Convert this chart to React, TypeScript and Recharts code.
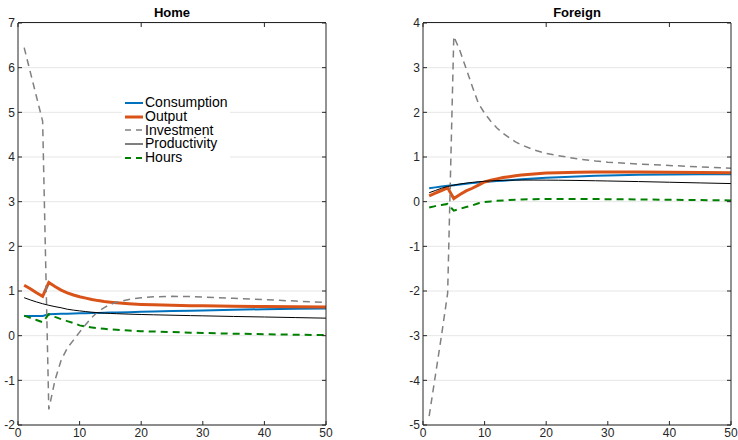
import { LineChart, Line, XAxis, YAxis, CartesianGrid } from 'recharts';

// periods after the shock
const periods = [1, 2, 3, 4, 5, 6, 7, 8, 9, 10, 11, 12, 13, 14, 15, 16, 18, 20, 22, 25, 28, 30, 35, 40, 45, 50];

const homeConsumption = [0.44, 0.44, 0.44, 0.44, 0.48, 0.485, 0.49, 0.493, 0.496, 0.5, 0.503, 0.506, 0.51, 0.513, 0.516, 0.52, 0.527, 0.534, 0.54, 0.55, 0.56, 0.566, 0.58, 0.592, 0.6, 0.608];
const homeOutput = [1.13, 1.05, 0.96, 0.88, 1.19, 1.1, 1.02, 0.96, 0.91, 0.87, 0.84, 0.81, 0.785, 0.765, 0.75, 0.735, 0.715, 0.7, 0.69, 0.68, 0.672, 0.668, 0.66, 0.653, 0.647, 0.64];
const homeInvestment = [6.45, 5.9, 5.35, 4.8, -1.65, -1.0, -0.55, -0.28, -0.1, 0.08, 0.25, 0.41, 0.54, 0.63, 0.7, 0.75, 0.81, 0.85, 0.87, 0.88, 0.875, 0.865, 0.835, 0.805, 0.775, 0.745];
const homeProductivity = [0.85, 0.8, 0.755, 0.715, 0.68, 0.65, 0.625, 0.592, 0.572, 0.555, 0.539, 0.525, 0.515, 0.505, 0.498, 0.492, 0.482, 0.474, 0.467, 0.458, 0.449, 0.444, 0.43, 0.418, 0.405, 0.392];
const homeHours = [0.45, 0.4, 0.35, 0.3, 0.48, 0.42, 0.37, 0.325, 0.285, 0.23, 0.205, 0.185, 0.168, 0.153, 0.14, 0.13, 0.113, 0.1, 0.092, 0.08, 0.068, 0.06, 0.045, 0.032, 0.022, 0.012];

const foreignConsumption = [0.3, 0.32, 0.34, 0.355, 0.37, 0.385, 0.4, 0.415, 0.43, 0.44, 0.45, 0.46, 0.47, 0.48, 0.49, 0.5, 0.52, 0.535, 0.548, 0.565, 0.58, 0.588, 0.6, 0.607, 0.612, 0.615];
const foreignOutput = [0.13, 0.19, 0.25, 0.31, 0.07, 0.16, 0.24, 0.3, 0.37, 0.44, 0.48, 0.51, 0.54, 0.56, 0.58, 0.595, 0.62, 0.64, 0.65, 0.66, 0.665, 0.665, 0.663, 0.66, 0.655, 0.65];
const foreignInvestment = [-4.8, -3.9, -3.0, -2.05, 3.7, 3.38, 2.98, 2.58, 2.2, 1.98, 1.8, 1.65, 1.53, 1.43, 1.34, 1.27, 1.16, 1.08, 1.03, 0.96, 0.91, 0.885, 0.84, 0.81, 0.78, 0.75];
const foreignProductivity = [0.2, 0.25, 0.3, 0.34, 0.37, 0.395, 0.415, 0.432, 0.446, 0.457, 0.465, 0.472, 0.477, 0.48, 0.482, 0.483, 0.483, 0.482, 0.48, 0.475, 0.468, 0.463, 0.45, 0.435, 0.42, 0.405];
const foreignHours = [-0.13, -0.1, -0.075, -0.05, -0.2, -0.16, -0.12, -0.085, -0.035, -0.01, 0.005, 0.018, 0.028, 0.036, 0.043, 0.048, 0.055, 0.06, 0.061, 0.06, 0.058, 0.056, 0.05, 0.042, 0.035, 0.028];

const xTicks = [0, 10, 20, 30, 40, 50];
const homeTicks = [-2, -1, 0, 1, 2, 3, 4, 5, 6, 7];
const foreignTicks = [-5, -4, -3, -2, -1, 0, 1, 2, 3, 4];

const series = [
  { key: 'consumption', name: 'Consumption', color: '#0072BD', width: 2, dash: undefined },
  { key: 'output', name: 'Output', color: '#D95319', width: 3, dash: undefined },
  { key: 'investment', name: 'Investment', color: '#808080', width: 1.5, dash: '7 5' },
  { key: 'productivity', name: 'Productivity', color: '#000000', width: 1, dash: undefined },
  { key: 'hours', name: 'Hours', color: '#008000', width: 2, dash: '7 5' },
];

const buildRows = (c: number[], o: number[], i: number[], p: number[], h: number[]) =>
  periods.map((x, k) => ({ x, consumption: c[k], output: o[k], investment: i[k], productivity: p[k], hours: h[k] }));

const homeData = buildRows(homeConsumption, homeOutput, homeInvestment, homeProductivity, homeHours);
const foreignData = buildRows(foreignConsumption, foreignOutput, foreignInvestment, foreignProductivity, foreignHours);

const FONT = '"Liberation Sans", Arial, Helvetica, sans-serif';
const AXIS = '#262626';
const tickStyle = { fontSize: 12, fill: AXIS, fontFamily: FONT };

function Panel({ title, data, yTicks, left }: { title: string; data: any[]; yTicks: number[]; left: number }) {
  const domain = [yTicks[0], yTicks[yTicks.length - 1]];
  return (
    <div style={{ position: 'absolute', left, top: 0, width: 340, height: 440 }}>
      <LineChart width={340} height={440} data={data} margin={{ top: 12, right: 13, bottom: 0, left: 0 }}>
        <CartesianGrid vertical={false} stroke="#e6e6e6" horizontalValues={yTicks} />
        <XAxis
          dataKey="x" type="number" domain={[0, 50]} ticks={xTicks} height={15}
          stroke={AXIS} tickLine={{ stroke: AXIS }} tickSize={-4} tickMargin={7} tick={tickStyle} interval={0}
        />
        <XAxis
          xAxisId="top" orientation="top" type="number" domain={[0, 50]} ticks={xTicks}
          height={11} axisLine={false} stroke={AXIS} tickLine={{ stroke: AXIS }} tickSize={-4}
          tickFormatter={() => ''} interval={0} allowDataOverflow
        />
        <YAxis
          type="number" domain={domain} ticks={yTicks} width={18} stroke={AXIS}
          tickLine={{ stroke: AXIS }} tickSize={-4} tickMargin={7} tick={tickStyle} interval={0} allowDataOverflow
        />
        <YAxis
          yAxisId="right" orientation="right" type="number" domain={domain} ticks={yTicks}
          width={1} stroke={AXIS} tickLine={{ stroke: AXIS }} tickSize={-4} tickFormatter={() => ''} interval={0}
          allowDataOverflow
        />
        {series.map((s) => (
          <Line
            key={s.key} type="linear" dataKey={s.key} name={s.name} stroke={s.color}
            strokeWidth={s.width} strokeDasharray={s.dash} dot={false} isAnimationActive={false}
          />
        ))}
        {/* binds the mirror axes so they draw the box ticks */}
        <Line
          xAxisId="top" yAxisId="right" dataKey="consumption" stroke="none" strokeWidth={0}
          dot={false} activeDot={false} isAnimationActive={false}
        />
      </LineChart>
      {/* title and top frame edge */}
      <div
        style={{
          position: 'absolute', left: 18, width: 308, top: 5, height: 17, textAlign: 'center',
          fontWeight: 'bold', fontSize: 13, lineHeight: '16px', color: '#000',
          borderBottom: `1px solid ${AXIS}`, zIndex: 2, pointerEvents: 'none',
        }}
      >
        {title}
      </div>
    </div>
  );
}

function LegendBox() {
  return (
    <div
      style={{
        position: 'absolute', left: 122, top: 96, width: 108, height: 69, background: '#fff',
        fontFamily: FONT, fontSize: 14, color: '#000', zIndex: 3,
      }}
    >
      {series.map((s) => (
        <div key={s.key} style={{ display: 'flex', alignItems: 'center', height: 13.75, lineHeight: '13.75px' }}>
          <svg width={23} height={10} style={{ flex: 'none' }}>
            <line x1={3} x2={21} y1={5} y2={5} stroke={s.color} strokeWidth={s.width} strokeDasharray={s.dash ? '6 5' : undefined} />
          </svg>
          <span>{s.name}</span>
        </div>
      ))}
    </div>
  );
}

export default function App() {
  return (
    <div style={{ position: 'absolute', left: 0, top: 0, width: 738, height: 440, background: '#fff', fontFamily: FONT }}>
      <Panel title="Home" data={homeData} yTicks={homeTicks} left={0} />
      <Panel title="Foreign" data={foreignData} yTicks={foreignTicks} left={405} />
      <LegendBox />
    </div>
  );
}
